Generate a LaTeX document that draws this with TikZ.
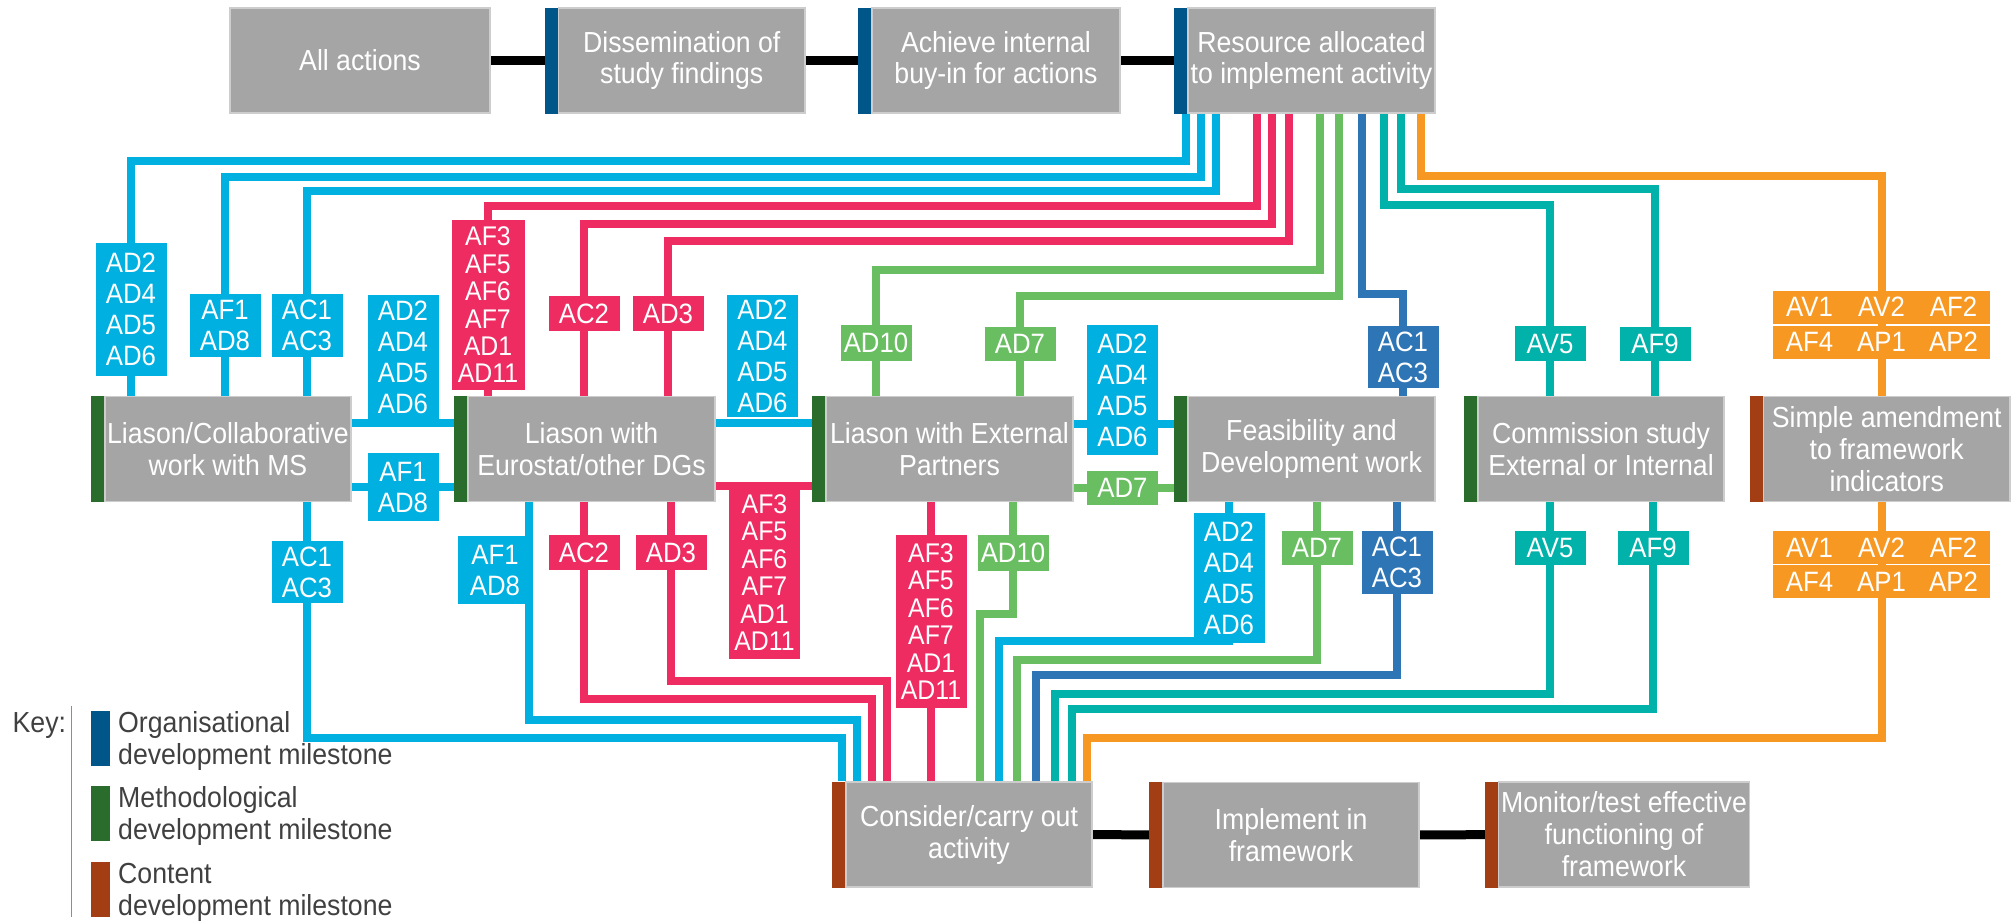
\documentclass[tikz,border=0pt]{standalone}
\usepackage{fontspec}
\setmainfont{Liberation Sans}[FakeStretch=0.92]
\usetikzlibrary{backgrounds}

\definecolor{boxgray}{RGB}{165,165,165}
\definecolor{boxedge}{RGB}{205,205,205}
\definecolor{orgbar}{RGB}{0,86,136}
\definecolor{methbar}{RGB}{42,108,44}
\definecolor{contbar}{RGB}{163,62,20}
\definecolor{cblue}{RGB}{0,176,224}
\definecolor{cpink}{RGB}{238,44,98}
\definecolor{cgreen}{RGB}{106,190,98}
\definecolor{cnavy}{RGB}{46,117,182}
\definecolor{cteal}{RGB}{0,178,170}
\definecolor{corange}{RGB}{247,152,34}
\definecolor{keytext}{RGB}{64,64,64}

\newcommand{\boxfont}{\fontsize{29}{32}\selectfont}
\newcommand{\tagfont}{\fontsize{28}{31}\selectfont}
\newcommand{\longfont}{\fontsize{27}{27.4}\selectfont}
\newcommand{\trio}[3]{\makebox[72pt]{#1}\makebox[72pt]{#2}\makebox[72pt]{#3}}

\tikzset{
    actbox/.style={
        rectangle, inner sep=0pt,
        minimum width=260pt, minimum height=105pt,
        draw=boxedge, line width=1.5pt,
        fill=boxgray, text=white, align=center, font=\boxfont,
    },
    % milestone box: coloured strip on the left of the grey part
    msbox/.style={
        actbox, minimum width=247pt, label distance=-1.5pt,
        label={[fill=#1, inner sep=0pt, outer sep=0pt, minimum width=13pt, minimum height=106pt]west:{}},
    },
    tagbox/.style={
        rectangle, inner sep=0pt,
        minimum width=71pt,
        fill=#1, text=white, align=center, font=\tagfont,
    },
    wire/.style={draw=#1, line width=8pt},
    seqlink/.style={draw=black, line width=9pt},
    keytxt/.style={text=keytext, align=left, font=\boxfont, anchor=west, inner sep=0pt},
    swatch/.style={rectangle, inner sep=0pt, minimum width=19.5pt, minimum height=55pt, fill=#1},
}

\begin{document}
\begin{tikzpicture}[x=1pt, y=-1pt]
    \useasboundingbox (0,0) rectangle (2015,921);

    % top row
    \node (allact) at(360,60.5) [actbox] {All actions};
    \node (dissem) at(681.75,60.5) [msbox=orgbar, minimum width=246.5pt] {Dissemination of\\study findings};
    \node (buyin) at(996,60.5) [msbox=orgbar, minimum width=248pt] {Achieve internal\\buy-in for actions};
    \node (resource) at(1311.5,60.5) [msbox=orgbar] {Resource allocated\\to implement activity};

    % middle row
    \node (collab) at(228,449) [msbox=methbar, minimum width=246pt] {Liason/Collaborative\\work with MS};
    \node (eurostat) at(591.5,449) [msbox=methbar] {Liason with\\Eurostat/other DGs};
    \node (external) at(949.5,449) [msbox=methbar] {Liason with External\\Partners};
    \node (feasib) at(1311.5,449) [msbox=methbar] {Feasibility and\\Development work};
    \node (commission) at(1601,449) [msbox=methbar, minimum width=246pt] {Commission study\\External or Internal};
    \node (amend) at(1886.75,449) [msbox=contbar, minimum width=246.5pt] {Simple amendment\\to framework\\indicators};

    % bottom row
    \node (consider) at(969,834.5) [msbox=contbar, minimum width=246pt] {Consider/carry out\\activity};
    \node (implement) at(1291,835) [msbox=contbar, minimum width=256pt] {Implement in\\framework};
    \node (monitor) at(1624,834.5) [msbox=contbar, minimum width=251pt] {Monitor/test effective\\functioning of\\framework};

    % codes above the middle row
    \node (tA) at(131,309.5) [tagbox=cblue, minimum height=133pt] {AD2\\AD4\\AD5\\AD6};
    \node (tB) at(225,325.5) [tagbox=cblue, minimum height=63pt] {AF1\\AD8};
    \node (tC) at(307,325.5) [tagbox=cblue, minimum height=63pt] {AC1\\AC3};
    \node (tD) at(488,305) [tagbox=cpink, minimum width=73pt, minimum height=170pt, font=\longfont] {AF3\\AF5\\AF6\\AF7\\AD1\\AD11};
    \node (tE) at(584,313.5) [tagbox=cpink, minimum height=35pt] {AC2};
    \node (tF) at(668,313.5) [tagbox=cpink, minimum height=35pt] {AD3};
    \node (tG) at(876,343) [tagbox=cgreen, minimum height=36pt] {AD10};
    \node (tH) at(1020,344) [tagbox=cgreen, minimum height=34pt] {AD7};
    \node (tI) at(1403,357) [tagbox=cnavy, minimum height=62pt] {AC1\\AC3};
    \node (tJ) at(1550,343.5) [tagbox=cteal, minimum height=35pt] {AV5};
    \node (tK) at(1655,344) [tagbox=cteal, minimum height=34pt] {AF9};
    \node (tL) at(1881.5,307) [tagbox=corange, minimum width=217pt, minimum height=33pt] {\trio{AV1}{AV2}{AF2}};
    \node (tL2) at(1881.5,342) [tagbox=corange, minimum width=217pt, minimum height=33pt] {\trio{AF4}{AP1}{AP2}};

    % codes between the boxes
    \node (mA) at(403,357) [tagbox=cblue, minimum height=124pt] {AD2\\AD4\\AD5\\AD6};
    \node (mB) at(403,487) [tagbox=cblue, minimum height=68pt] {AF1\\AD8};
    \node (mC) at(762.5,356) [tagbox=cblue, minimum height=122pt] {AD2\\AD4\\AD5\\AD6};
    \node (mD) at(764.5,572.5) [tagbox=cpink, minimum height=173pt, font=\longfont] {AF3\\AF5\\AF6\\AF7\\AD1\\AD11};
    \node (mE) at(1122.5,390) [tagbox=cblue, minimum height=130pt] {AD2\\AD4\\AD5\\AD6};
    \node (mF) at(1122.5,488) [tagbox=cgreen, minimum height=34pt] {AD7};

    % codes below the middle row
    \node (nA) at(307,572) [tagbox=cblue, minimum height=62pt] {AC1\\AC3};
    \node (nB) at(495,570) [tagbox=cblue, minimum width=75pt, minimum height=68pt] {AF1\\AD8};
    \node (nC) at(584,552.5) [tagbox=cpink, minimum height=35pt] {AC2};
    \node (nD) at(671,552.5) [tagbox=cpink, minimum height=35pt] {AD3};
    \node (nE) at(931,621.5) [tagbox=cpink, minimum height=173pt, font=\longfont] {AF3\\AF5\\AF6\\AF7\\AD1\\AD11};
    \node (nF) at(1013,553) [tagbox=cgreen, minimum height=36pt] {AD10};
    \node (nG) at(1229,578) [tagbox=cblue, minimum height=130pt] {AD2\\AD4\\AD5\\AD6};
    \node (nH) at(1317,548) [tagbox=cgreen, minimum height=34pt] {AD7};
    \node (nI) at(1397,562.5) [tagbox=cnavy, minimum height=63pt] {AC1\\AC3};
    \node (nJ) at(1550,548) [tagbox=cteal, minimum height=34pt] {AV5};
    \node (nK) at(1653,548) [tagbox=cteal, minimum height=34pt] {AF9};
    \node (nL) at(1881.5,547.5) [tagbox=corange, minimum width=217pt, minimum height=33pt] {\trio{AV1}{AV2}{AF2}};
    \node (nL2) at(1881.5,581.5) [tagbox=corange, minimum width=217pt, minimum height=33pt] {\trio{AF4}{AP1}{AP2}};

    % inputs of the consider box
    \foreach \k/\dx in {1/-127, 2/-112, 3/-97, 4/-82, 5/-38, 6/11, 7/30, 8/48, 9/67, 10/86, 11/103, 12/118}
        \coordinate (in\k) at ([xshift=\dx pt]consider.north);

    \begin{scope}[on background layer]
        \draw[seqlink] (allact) -- (dissem);
        \draw[seqlink] (dissem) -- (buyin);
        \draw[seqlink] (buyin) -- (resource);
        \draw[seqlink] (consider) -- (implement);
        \draw[seqlink] (implement) -- (monitor);

        \draw[wire=cblue] ([xshift=-125.5pt]resource.south) |- (tA |- 0,161) -- (tA |- collab.north);
        \draw[wire=cblue] ([xshift=-110.5pt]resource.south) |- (tB |- 0,177) -- (tB |- collab.north);
        \draw[wire=cblue] ([xshift=-95.5pt]resource.south) |- (tC |- 0,191) -- (tC |- collab.north);
        \draw[wire=cpink] ([xshift=-54.5pt]resource.south) |- (tD |- 0,206) -- (tD |- eurostat.north);
        \draw[wire=cpink] ([xshift=-39.5pt]resource.south) |- (tE |- 0,224) -- (tE |- eurostat.north);
        \draw[wire=cpink] ([xshift=-22.5pt]resource.south) |- (tF |- 0,241) -- (tF |- eurostat.north);
        \draw[wire=cgreen] ([xshift=8.5pt]resource.south) |- (tG |- 0,270) -- (tG |- external.north);
        \draw[wire=cgreen] ([xshift=27.5pt]resource.south) |- (tH |- 0,296) -- (tH |- external.north);
        \draw[wire=cnavy] ([xshift=50.5pt]resource.south) |- (tI |- 0,294) -- (tI |- feasib.north);
        \draw[wire=cteal] ([xshift=72.5pt]resource.south) |- (tJ |- 0,205) -- (tJ |- commission.north);
        \draw[wire=cteal] ([xshift=89.5pt]resource.south) |- (tK |- 0,189) -- (tK |- commission.north);
        \draw[wire=corange] ([xshift=109.5pt]resource.south) |- (tL |- 0,176) -- (tL |- amend.north);

        \draw[wire=cblue] (collab.east |- 0,423) -- (eurostat.west |- 0,423);
        \draw[wire=cblue] (collab.east |- mB) -- (eurostat.west |- mB);
        \draw[wire=cblue] (eurostat.east |- 0,423) -- (external.west |- 0,423);
        \draw[wire=cpink] (eurostat.east |- mD.north) -- (external.west |- mD.north);
        \draw[wire=cblue] (external.east |- 0,424) -- (feasib.west |- 0,424);
        \draw[wire=cgreen] (external.east |- mF) -- (feasib.west |- mF);

        \draw[wire=cblue] (nA |- collab.south) |- (in1 |- 0,738) -- (in1);
        \draw[wire=cblue] (529,0 |- eurostat.south) |- (in2 |- 0,720) -- (in2);
        \draw[wire=cpink] (nC |- eurostat.south) |- (in3 |- 0,699) -- (in3);
        \draw[wire=cpink] (nD |- eurostat.south) |- (in4 |- 0,681) -- (in4);
        \draw[wire=cpink] (nE |- external.south) -- (in5);
        \draw[wire=cgreen] (nF |- external.south) |- (in6 |- 0,614) -- (in6);
        \draw[wire=cblue] (nG |- feasib.south) |- (in7 |- 0,641) -- (in7);
        \draw[wire=cgreen] (nH |- feasib.south) |- (in8 |- 0,659.5) -- (in8);
        \draw[wire=cnavy] (nI |- feasib.south) |- (in9 |- 0,675) -- (in9);
        \draw[wire=cteal] (nJ |- commission.south) |- (in10 |- 0,694) -- (in10);
        \draw[wire=cteal] (nK |- commission.south) |- (in11 |- 0,708.5) -- (in11);
        \draw[wire=corange] (nL |- amend.south) |- (in12 |- 0,738) -- (in12);
    \end{scope}

    % key
    \node (keylabel) at(12.5,732) [keytxt, anchor=base west] {Key:};
    \draw[keytext!60, line width=1.2pt] (71.5,706) -- (71.5,917);
    \node (swOrg) at(100.3,738) [swatch=orgbar] {};
    \node (txOrg) at(118,741) [keytxt] {Organisational\\development milestone};
    \node (swMeth) at(100.3,813.6) [swatch=methbar] {};
    \node (txMeth) at(118,816) [keytxt] {Methodological\\development milestone};
    \node (swCont) at(100.3,889.3) [swatch=contbar] {};
    \node (txCont) at(118,892) [keytxt] {Content\\development milestone};
\end{tikzpicture}
\end{document}
